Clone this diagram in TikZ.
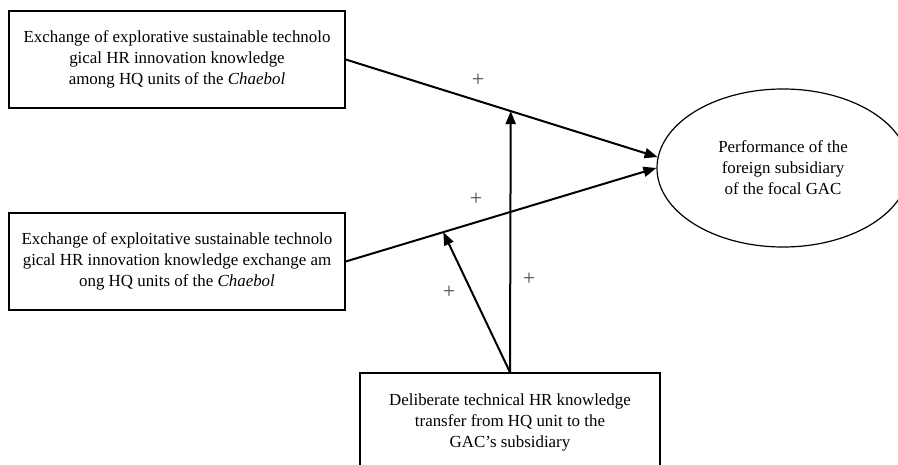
\documentclass[tikz,border=0pt]{standalone}
\usepackage{fontspec}
\setmainfont{Liberation Serif}
\usetikzlibrary{shapes.geometric,arrows.meta,calc}
\begin{document}
\begin{tikzpicture}[x=1pt,y=-1pt,
  txt/.style={font=\fontsize{16.9}{21}\selectfont,align=center,inner sep=0pt},
  boxnode/.style={txt,draw,line width=1.5pt,minimum width=336pt,minimum height=97pt},
  conn/.style={line width=2pt,-{Triangle[length=13pt,width=10pt]}},
  plus/.style={font=\fontsize{22}{22}\selectfont,text=black!70,inner sep=0pt}]
\useasboundingbox (0,0) rectangle (898,465);
\clip (0,0) rectangle (898,465);
\node[boxnode] (b1) at (177,59.5) {Exchange of explorative sustainable technolo\\gical HR innovation knowledge\\among HQ units of the \textit{Chaebol}};
\node[boxnode] (b2) at (177,261.5) {Exchange of exploitative sustainable technolo\\gical HR innovation knowledge exchange am\\ong HQ units of the \textit{Chaebol}};
\node[boxnode,minimum width=300pt,minimum height=98pt] (b3) at (510,422) {Deliberate technical HR knowledge\\transfer from HQ unit to the\\GAC’s subsidiary};
\node[txt,draw,ellipse,line width=1.2pt,minimum width=252pt,minimum height=158pt,inner sep=0pt] (e) at (783,168) {Performance of the\\foreign subsidiary\\of the focal GAC};
\draw[conn] (b1.east) -- (e.175);
\draw[conn] (b2.east) -- (e.180);
\coordinate (m1) at ($(b1.east)!0.529!(e.175)$);
\coordinate (m2) at ($(b2.east)!0.314!(e.180)$);
\draw[conn] (b3.north) -- (m1);
\draw[conn] (b3.north) -- (m2);
\node[plus] (p1) at (478,80) {+};
\node[plus] (p2) at (476,199) {+};
\node[plus] (p3) at (529,279) {+};
\node[plus] (p4) at (449,292) {+};
\end{tikzpicture}
\end{document}
